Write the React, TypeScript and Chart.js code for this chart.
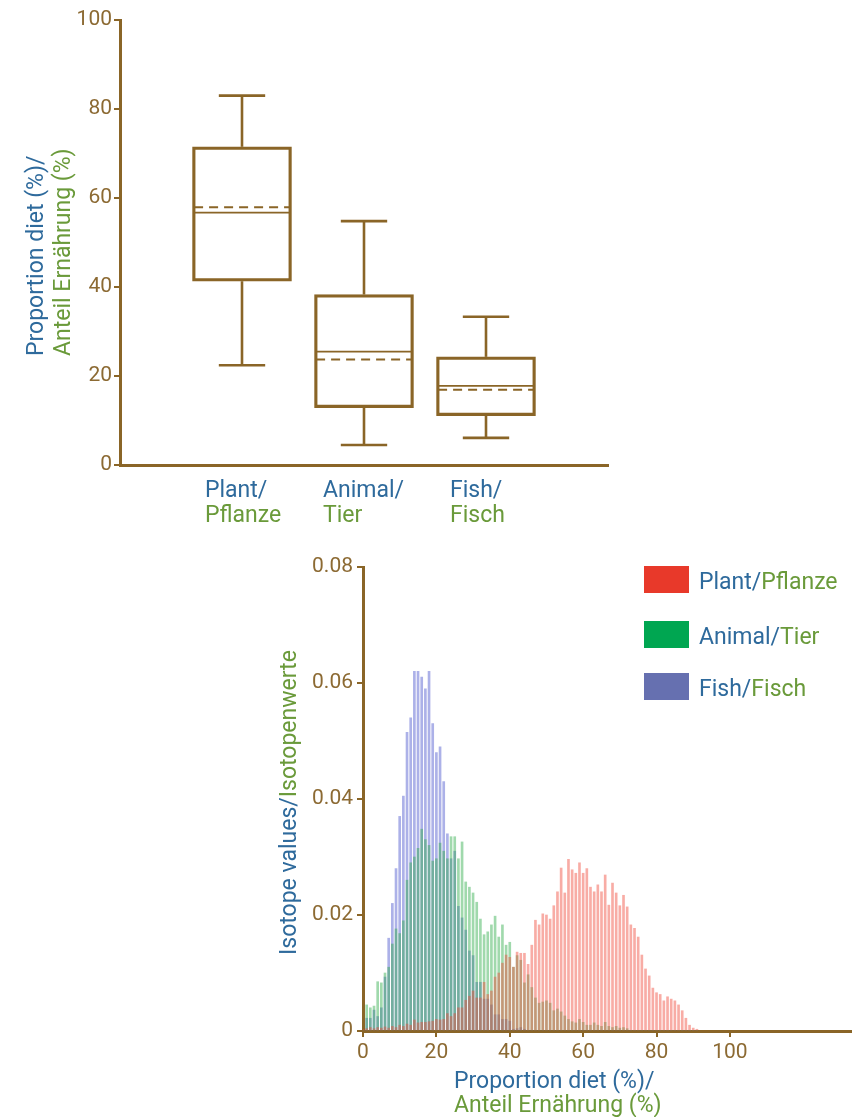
import React, { useEffect, useRef } from 'react';
import { Chart, registerables } from 'chart.js';

Chart.register(...registerables);

// ---------- Box plot data ----------
const boxCategories = ['Plant/Pflanze', 'Animal/Tier', 'Fish/Fisch'];
const boxPositions = [1, 2, 3];
const whiskerLow = [22.4, 4.5, 6.1];
const quartile1 = [41.3, 12.9, 11.1];
const medians = [56.7, 25.5, 17.8];
const means = [57.9, 23.7, 16.9];
const quartile3 = [71.5, 38.3, 24.3];
const whiskerHigh = [83.0, 54.8, 33.3];
const boxYTicks = [0, 20, 40, 60, 80, 100];

// ---------- Histogram data ----------
const histBins = [
  0, 1, 2, 3, 4, 5, 6, 7, 8, 9, 10, 11, 12, 13, 14, 15, 16, 17, 18, 19,
  20, 21, 22, 23, 24, 25, 26, 27, 28, 29, 30, 31, 32, 33, 34, 35, 36, 37, 38, 39,
  40, 41, 42, 43, 44, 45, 46, 47, 48, 49, 50, 51, 52, 53, 54, 55, 56, 57, 58, 59,
  60, 61, 62, 63, 64, 65, 66, 67, 68, 69, 70, 71, 72, 73, 74, 75, 76, 77, 78, 79,
  80, 81, 82, 83, 84, 85, 86, 87, 88, 89, 90, 91,
];
const fishValues = [
  0, 0.0022, 0.0022, 0.0036, 0.0025, 0.004, 0.0093, 0.016, 0.022, 0.028,
  0.037, 0.0405, 0.0515, 0.054, 0.062, 0.062, 0.061, 0.059, 0.062, 0.053,
  0.048, 0.049, 0.043, 0.034, 0.0297, 0.031, 0.0215, 0.0195, 0.0174, 0.0138,
  0.013, 0.0084, 0.0084, 0.0055, 0.0055, 0.0045, 0.0028, 0.0028, 0.002, 0.002,
  0.0017, 0.0003, 0.0004, 0.0006, 0.0003, 0, 0, 0, 0, 0,
  0, 0, 0, 0, 0, 0, 0, 0, 0, 0,
  0, 0, 0, 0, 0, 0, 0, 0, 0, 0,
  0, 0, 0, 0, 0, 0, 0, 0, 0, 0,
  0, 0, 0, 0, 0, 0, 0, 0, 0, 0,
  0, 0,
];
const animalValues = [
  0, 0.0045, 0.004, 0.0043, 0.0085, 0.0083, 0.01, 0.011, 0.015, 0.0176,
  0.0168, 0.019, 0.026, 0.029, 0.03, 0.0315, 0.0348, 0.033, 0.032, 0.0293,
  0.0297, 0.0324, 0.031, 0.0297, 0.0335, 0.0335, 0.0297, 0.0326, 0.0257, 0.0248,
  0.0238, 0.0222, 0.0193, 0.0166, 0.0171, 0.0183, 0.0198, 0.0162, 0.0183, 0.0148,
  0.0153, 0.011, 0.013, 0.0122, 0.0083, 0.0097, 0.0075, 0.0057, 0.0048, 0.005,
  0.0052, 0.0048, 0.0035, 0.0038, 0.0033, 0.0026, 0.002, 0.0016, 0.0014, 0.002,
  0.0015, 0.001, 0.001, 0.0014, 0.001, 0.0008, 0.0015, 0.0008, 0.0006, 0.0008,
  0.0005, 0.0006, 0.0004, 0, 0, 0, 0, 0, 0, 0,
  0, 0, 0, 0, 0, 0, 0, 0, 0, 0,
  0, 0,
];
const plantValues = [
  0.0003, 0.0004, 0.0006, 0.0004, 0.0006, 0.0005, 0.0007, 0.0005, 0.0008, 0.0006,
  0.001, 0.0008, 0.0012, 0.001, 0.0019, 0.0014, 0.0015, 0.0015, 0.0016, 0.0017,
  0.002, 0.0019, 0.002, 0.003, 0.0025, 0.003, 0.004, 0.004, 0.0053, 0.006,
  0.0069, 0.0057, 0.0057, 0.0084, 0.0063, 0.0069, 0.0093, 0.01, 0.0117, 0.0131,
  0.0127, 0.011, 0.0136, 0.0134, 0.0134, 0.0115, 0.0148, 0.0191, 0.0183, 0.0202,
  0.02, 0.0193, 0.0216, 0.024, 0.0281, 0.0238, 0.0296, 0.0278, 0.0272, 0.029,
  0.0272, 0.028, 0.0248, 0.024, 0.0252, 0.024, 0.0269, 0.0217, 0.0255, 0.0238,
  0.0216, 0.0234, 0.0214, 0.0183, 0.0177, 0.0162, 0.0131, 0.0107, 0.0095, 0.0074,
  0.0066, 0.0063, 0.0052, 0.0059, 0.0055, 0.0052, 0.0045, 0.0035, 0.0022, 0.001,
  0.0005, 0.0003,
];
const legendItems = [
  { en: 'Plant/', de: 'Pflanze', color: '#E8392A' },
  { en: 'Animal/', de: 'Tier', color: '#00A651' },
  { en: 'Fish/', de: 'Fisch', color: '#6670B0' },
];

// ---------- Styles ----------
const BROWN = '#8a6527';
const TEXT_BROWN = '#8c6a33';
const BLUE_TEXT = '#2e6a9c';
const GREEN_TEXT = '#6a9a3a';
const FONT = 'Roboto, "DejaVu Sans", sans-serif';
const BOX_HALF = 0.405;
const CAP_HALF = 0.19;

const boxExtrasPlugin = {
  id: 'boxExtras',
  afterDatasetsDraw(chart: any) {
    const { ctx } = chart;
    const xs = chart.scales.x;
    const ys = chart.scales.y;
    const line = (x1: number, y1: number, x2: number, y2: number) => {
      ctx.beginPath();
      ctx.moveTo(x1, y1);
      ctx.lineTo(x2, y2);
      ctx.stroke();
    };
    ctx.save();
    ctx.strokeStyle = BROWN;
    ctx.lineCap = 'butt';
    boxPositions.forEach((p, i) => {
      const cx = xs.getPixelForValue(p);
      const half = xs.getPixelForValue(p + BOX_HALF) - cx - 1.5;
      const cap = xs.getPixelForValue(p + CAP_HALF) - cx;
      ctx.setLineDash([]);
      ctx.lineWidth = 2.6;
      line(cx, ys.getPixelForValue(whiskerLow[i]), cx, ys.getPixelForValue(quartile1[i]));
      line(cx, ys.getPixelForValue(quartile3[i]), cx, ys.getPixelForValue(whiskerHigh[i]));
      line(cx - cap, ys.getPixelForValue(whiskerLow[i]), cx + cap, ys.getPixelForValue(whiskerLow[i]));
      line(cx - cap, ys.getPixelForValue(whiskerHigh[i]), cx + cap, ys.getPixelForValue(whiskerHigh[i]));
      ctx.lineWidth = 1.8;
      line(cx - half, ys.getPixelForValue(medians[i]), cx + half, ys.getPixelForValue(medians[i]));
      ctx.lineWidth = 2;
      ctx.setLineDash([9, 6]);
      line(cx - half, ys.getPixelForValue(means[i]), cx + half, ys.getPixelForValue(means[i]));
    });
    ctx.restore();
  },
};

export default function App() {
  const boxRef = useRef<HTMLCanvasElement>(null);
  const histRef = useRef<HTMLCanvasElement>(null);

  useEffect(() => {
    document.body.style.margin = '0';
    const tickFont = { family: FONT, size: 21 };

    const c1 = new Chart(boxRef.current as HTMLCanvasElement, {
      type: 'bar',
      data: {
        datasets: [
          {
            label: 'box',
            data: boxPositions.map((p, i) => ({ x: p, y: [quartile1[i], quartile3[i]] })) as any,
            backgroundColor: 'rgba(0,0,0,0)',
            borderColor: BROWN,
            borderWidth: 2.6,
            borderSkipped: false,
            barThickness: 99,
          },
        ],
      },
      options: {
        responsive: false,
        animation: false,
        devicePixelRatio: 1,
        layout: { padding: { top: 20, right: 12, left: 0, bottom: 0 } },
        plugins: { legend: { display: false }, tooltip: { enabled: false } },
        scales: {
          x: {
            type: 'linear',
            min: 0,
            max: 4,
            offset: false,
            ticks: { display: false },
            grid: { display: false, offset: false },
            border: { display: true, color: BROWN, width: 3 },
            afterFit: (s: any) => {
              s.height = 15;
            },
          },
          y: {
            min: 0,
            max: 100,
            afterBuildTicks: (s: any) => {
              s.ticks = boxYTicks.map((v) => ({ value: v }));
            },
            ticks: { color: TEXT_BROWN, font: tickFont, padding: 2 },
            grid: { drawOnChartArea: false, drawTicks: true, tickLength: 6, color: BROWN, lineWidth: 2 },
            border: { display: true, color: BROWN, width: 3 },
            afterFit: (s: any) => {
              s.width = 120;
              s.paddingTop = 0;
              s.paddingBottom = 0;
            },
          },
        },
      } as any,
      plugins: [boxExtrasPlugin],
    });

    const c2 = new Chart(histRef.current as HTMLCanvasElement, {
      type: 'bar',
      data: {
        datasets: [
          {
            label: 'Plant/Pflanze',
            data: histBins.map((b, i) => ({ x: b, y: plantValues[i] })) as any,
            backgroundColor: 'rgba(240,70,55,0.45)',
            grouped: false,
            barThickness: 2,
            order: 1,
          } as any,
          {
            label: 'Animal/Tier',
            data: histBins.map((b, i) => ({ x: b, y: animalValues[i] })) as any,
            backgroundColor: 'rgba(45,170,70,0.45)',
            grouped: false,
            barThickness: 2,
            order: 2,
          } as any,
          {
            label: 'Fish/Fisch',
            data: histBins.map((b, i) => ({ x: b, y: fishValues[i] })) as any,
            backgroundColor: 'rgba(90,100,210,0.5)',
            grouped: false,
            barThickness: 2,
            order: 3,
          } as any,
        ],
      },
      options: {
        responsive: false,
        animation: false,
        devicePixelRatio: 1,
        layout: { padding: { top: 27, right: 2, left: 0, bottom: 0 } },
        plugins: { legend: { display: false }, tooltip: { enabled: false } },
        scales: {
          x: {
            type: 'linear',
            min: 0,
            max: 133,
            offset: false,
            afterBuildTicks: (s: any) => {
              s.ticks = s.ticks.filter((t: any) => t.value <= 100);
            },
            ticks: { stepSize: 20, color: TEXT_BROWN, font: tickFont, padding: 3, maxRotation: 0 },
            grid: { drawOnChartArea: false, drawTicks: true, tickLength: 6, color: BROWN, lineWidth: 2, offset: false },
            border: { display: true, color: BROWN, width: 3 },
            afterFit: (s: any) => {
              s.height = 39;
              s.paddingLeft = 0;
              s.paddingRight = 0;
            },
          },
          y: {
            min: 0,
            max: 0.08,
            ticks: { stepSize: 0.02, color: TEXT_BROWN, font: tickFont, padding: 4 },
            grid: { drawOnChartArea: false, drawTicks: true, tickLength: 6, color: BROWN, lineWidth: 2 },
            border: { display: true, color: BROWN, width: 3 },
            afterFit: (s: any) => {
              s.width = 93;
              s.paddingTop = 0;
              s.paddingBottom = 0;
            },
          },
        },
      } as any,
    });

    return () => {
      c1.destroy();
      c2.destroy();
    };
  }, []);

  const textBase: React.CSSProperties = {
    position: 'absolute',
    fontFamily: FONT,
    fontSize: 23,
    whiteSpace: 'nowrap',
  };
  const catLefts = [205, 323, 450];

  return (
    <div style={{ position: 'absolute', left: 0, top: 0, width: 853, height: 1117, background: '#fff', overflow: 'hidden' }}>
      <canvas ref={boxRef} width={620} height={480} style={{ position: 'absolute', left: 0, top: 0 }} />
      <canvas ref={histRef} width={583} height={530} style={{ position: 'absolute', left: 270, top: 540 }} />

      {/* Box plot y title */}
      <div style={{ ...textBase, left: 21.5, top: 356, lineHeight: '27px', transform: 'rotate(-90deg)', transformOrigin: '0 0' }}>
        <div style={{ color: BLUE_TEXT }}>Proportion diet (%)/</div>
        <div style={{ color: GREEN_TEXT }}>Anteil Ernährung (%)</div>
      </div>

      {/* Box plot category labels */}
      {boxCategories.map((c, i) => {
        const [en, de] = c.split('/');
        return (
          <div key={c} style={{ ...textBase, left: catLefts[i], top: 477, lineHeight: '25px' }}>
            <div style={{ color: BLUE_TEXT }}>{en}/</div>
            <div style={{ color: GREEN_TEXT }}>{de}</div>
          </div>
        );
      })}

      {/* Histogram y title */}
      <div style={{ ...textBase, left: 274.5, top: 955, lineHeight: '27px', transform: 'rotate(-90deg)', transformOrigin: '0 0' }}>
        <span style={{ color: BLUE_TEXT }}>Isotope values/</span>
        <span style={{ color: GREEN_TEXT }}>Isotopenwerte</span>
      </div>

      {/* Histogram x title */}
      <div style={{ ...textBase, left: 454, top: 1069, lineHeight: '24px' }}>
        <div style={{ color: BLUE_TEXT }}>Proportion diet (%)/</div>
        <div style={{ color: GREEN_TEXT }}>Anteil Ernährung (%)</div>
      </div>

      {/* Legend */}
      {legendItems.map((it, i) => {
        const top = [566, 621, 673][i];
        return (
          <React.Fragment key={it.de}>
            <div style={{ position: 'absolute', left: 644, top, width: 45, height: 27, background: it.color }} />
            <div style={{ ...textBase, left: 699, top: top + 2, lineHeight: '27px' }}>
              <span style={{ color: BLUE_TEXT }}>{it.en}</span>
              <span style={{ color: GREEN_TEXT }}>{it.de}</span>
            </div>
          </React.Fragment>
        );
      })}
    </div>
  );
}
